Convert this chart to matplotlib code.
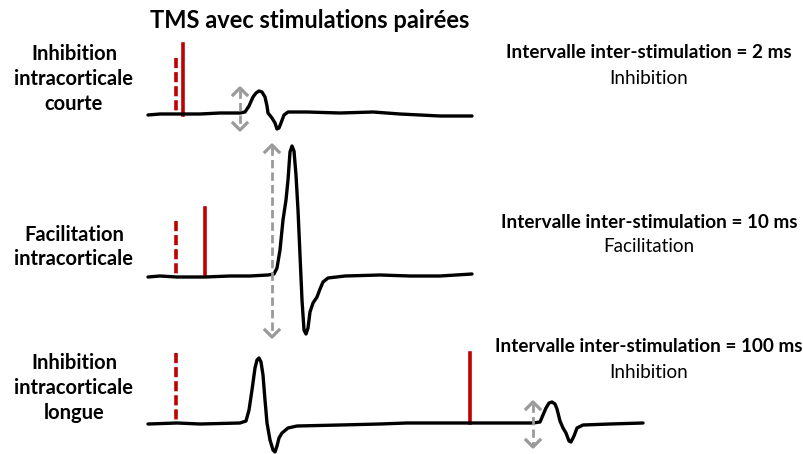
import matplotlib
matplotlib.use("Agg")
import matplotlib.pyplot as plt

plt.rcParams['font.family'] = ['Lato', 'DejaVu Sans']

# traces in pixel coordinates (x, y with y pointing down)
trace_short = [(148, 115), (160, 114), (177, 114), (200, 114), (220, 113), (240, 113), (245, 112),
               (249, 106), (253, 97), (256, 93), (259, 91), (262, 92), (265, 97), (267, 106),
               (268, 113), (272, 118), (275, 123), (277, 129), (279, 128), (281, 123), (284, 115),
               (288, 112), (307, 112), (340, 113), (373, 112), (400, 114), (440, 116), (460, 116),
               (472, 116)]
trace_facil = [(148, 277), (160, 276), (177, 277), (205, 277), (230, 276), (250, 276), (268, 275),
               (274, 274), (277, 268), (280, 250), (283, 220), (286, 200), (288, 180), (290, 152),
               (292, 146), (294, 151), (296, 175), (298, 210), (300, 255), (302, 300), (304, 330),
               (306, 334), (308, 328), (310, 312), (313, 303), (317, 297), (320, 289), (323, 282),
               (328, 278), (345, 276), (380, 275), (410, 276), (440, 276), (472, 274)]
trace_long = [(148, 424), (177, 423), (200, 424), (240, 423), (246, 421), (249, 410), (252, 390),
              (255, 368), (257, 360), (259, 358), (261, 362), (263, 375), (265, 400), (267, 423),
              (270, 440), (273, 450), (275, 452), (277, 446), (279, 438), (282, 433), (288, 428),
              (297, 426), (340, 425), (380, 424), (407, 423), (470, 423), (533, 423), (540, 422),
              (543, 415), (546, 408), (549, 403), (552, 402), (555, 404), (557, 409), (560, 421),
              (563, 428), (566, 433), (569, 441), (571, 442), (574, 436), (577, 428), (583, 425),
              (610, 424), (643, 423)]
traces = [trace_short, trace_facil, trace_long]

# conditioning (dashed) and test (solid) pulses: x, top, bottom
cond_pulses = [(176, 58, 115), (176, 221, 276), (176, 353, 423)]
test_pulses = [(183, 44, 115), (205, 208, 276), (470, 353, 423)]

# grey double arrows: x, top tip, bottom tip
amp_arrows = [(240, 88, 130), (272, 145, 337), (533, 402, 447)]

left_labels = ["Inhibition\nintracorticale\ncourte", "Facilitation\nintracorticale",
               "Inhibition\nintracorticale\nlongue"]
left_y = [79, 247, 388]
right_titles = ["Intervalle inter-stimulation = 2 ms", "Intervalle inter-stimulation = 10 ms",
                "Intervalle inter-stimulation = 100 ms"]
right_effects = ["Inhibition", "Facilitation", "Inhibition"]
right_y = [53, 222, 347]

red = "#C00000"
grey = "#9A9A9A"

fig = plt.figure(figsize=(8.04, 4.54), dpi=100)
ax = fig.add_axes([0, 0, 1, 1])
ax.set_xlim(0, 804)
ax.set_ylim(454, 0)
ax.axis("off")

for tr in traces:
    xs = [p[0] for p in tr]
    ys = [p[1] for p in tr]
    ax.plot(xs, ys, color="black", lw=2.4, solid_joinstyle="round", solid_capstyle="round", zorder=3)

for x, top, bot in cond_pulses:
    ax.plot([x, x], [top, bot], color=red, lw=2.6, ls=(0, (2.8, 1.1)), zorder=2)
for x, top, bot in test_pulses:
    ax.plot([x, x], [top, bot], color=red, lw=2.6, zorder=2)

for x, top, bot in amp_arrows:
    ax.plot([x, x], [top + 2, bot - 2], color=grey, lw=2.0, ls=(0, (3, 1.5)), zorder=4)
    w = 7
    ax.plot([x - w, x, x + w], [top + w, top, top + w], color=grey, lw=2.3, zorder=4)
    ax.plot([x - w, x, x + w], [bot - w, bot, bot - w], color=grey, lw=2.3, zorder=4)

ax.text(310, 21, "TMS avec stimulations pairées", fontsize=17, fontweight="bold",
        ha="center", va="center")

for lab, y in zip(left_labels, left_y):
    ax.text(74, y, lab, fontsize=14.5, fontweight="bold", ha="center", va="center",
            linespacing=1.3)

for t, e, y in zip(right_titles, right_effects, right_y):
    ax.text(649, y, t, fontsize=13.6, fontweight="bold", ha="center", va="center")
    ax.text(649, y + 25, e, fontsize=13.6, ha="center", va="center")

fig.savefig("out.png", dpi=100)
